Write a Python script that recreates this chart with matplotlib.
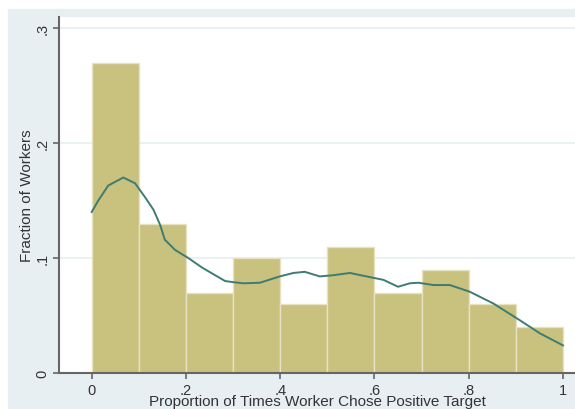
import matplotlib.pyplot as plt
from matplotlib.patches import Rectangle

# histogram: share of workers per 0.1-wide bin
bin_left = [0.0, 0.1, 0.2, 0.3, 0.4, 0.5, 0.6, 0.7, 0.8, 0.9]
bin_width = 0.1
fraction = [0.27, 0.13, 0.07, 0.10, 0.06, 0.11, 0.07, 0.09, 0.06, 0.04]

# kernel density, scaled to fraction per bin
kde_x = [0.0, 0.014, 0.035, 0.067, 0.092, 0.113, 0.131, 0.145, 0.155, 0.177,
         0.205, 0.233, 0.262, 0.283, 0.300, 0.322, 0.357, 0.399, 0.428, 0.452,
         0.484, 0.512, 0.548, 0.583, 0.619, 0.650, 0.675, 0.693, 0.725, 0.760,
         0.802, 0.852, 0.908, 0.951, 1.0]
kde_y = [0.140, 0.150, 0.163, 0.170, 0.165, 0.153, 0.142, 0.129, 0.116, 0.107,
         0.100, 0.092, 0.085, 0.080, 0.079, 0.078, 0.0785, 0.084, 0.087, 0.088,
         0.084, 0.085, 0.087, 0.084, 0.081, 0.075, 0.078, 0.0785, 0.0765, 0.0765,
         0.0707, 0.0605, 0.046, 0.0345, 0.024]

xticks = [0, 0.2, 0.4, 0.6, 0.8, 1.0]
xtick_labels = ["0", ".2", ".4", ".6", ".8", "1"]
yticks = [0, 0.1, 0.2, 0.3]
ytick_labels = ["0", ".1", ".2", ".3"]

plt.rcParams["font.family"] = "Liberation Sans"

fig = plt.figure(figsize=(5.75, 4.1), dpi=100)
fig.patches.append(Rectangle((8 / 575, 0), 1, 1 - 10 / 410,
                             transform=fig.transFigure, color="#e8eff2",
                             zorder=-5))

ax = fig.add_axes([59 / 575, 36 / 410, 1 - 59 / 575, (374 - 18) / 410])
ax.set_facecolor("white")

ax.bar(bin_left, fraction, width=bin_width, align="edge",
       color="#c9c17e", edgecolor="#e6e2c2", linewidth=1, zorder=2)
ax.plot(kde_x, kde_y, color="#3e7c72", linewidth=1.4, zorder=3)

ax.set_xlim(-0.0694, 1.0255)
ax.set_ylim(0, 0.3096)
ax.set_xticks(xticks, xtick_labels)
ax.set_yticks(yticks, ytick_labels)
ax.tick_params(axis="y", labelrotation=90)
for lab in ax.get_yticklabels():
    lab.set_va("center")
ax.tick_params(length=4, width=1.2, color="#666666", labelsize=10.5,
               labelcolor="#333333")
ax.tick_params(axis="x", pad=3)
ax.tick_params(axis="y", pad=3)

ax.grid(axis="y", color="#eaf1f3", linewidth=1.5, zorder=1)
ax.set_axisbelow(True)
for side in ["top", "right"]:
    ax.spines[side].set_visible(False)
for side in ["left", "bottom"]:
    ax.spines[side].set_color("#666666")
    ax.spines[side].set_linewidth(1.5)

ax.set_xlabel("Proportion of Times Worker Chose Positive Target",
              fontsize=11, color="#333333")
ax.xaxis.set_label_coords(0.5, -(395 - 374) / 356)
ax.set_ylabel("Fraction of Workers", fontsize=11, color="#333333",
              labelpad=1)

fig.savefig("out.png", dpi=100)
